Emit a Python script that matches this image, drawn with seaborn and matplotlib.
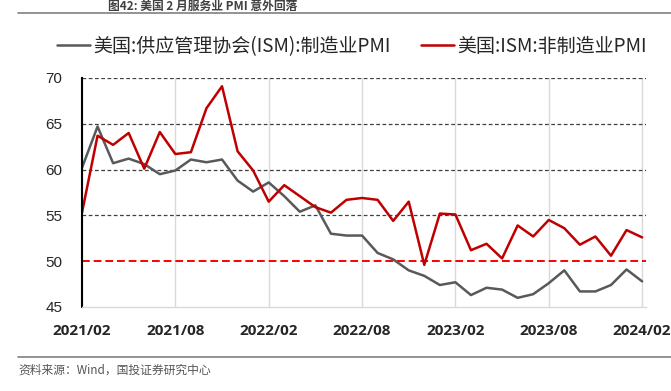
import numpy as np
import pandas as pd
import matplotlib
matplotlib.use('Agg')
import matplotlib.pyplot as plt
import seaborn as sns

# monthly data, 2021/02 - 2024/02
months = pd.period_range('2021-02', '2024-02', freq='M').strftime('%Y/%m').tolist()
ism_mfg = [60.2, 64.7, 60.7, 61.2, 60.6, 59.5, 59.9, 61.1, 60.8, 61.1, 58.8, 57.6,
           58.6, 57.1, 55.4, 56.1, 53.0, 52.8, 52.8, 50.9, 50.2, 49.0, 48.4, 47.4,
           47.7, 46.3, 47.1, 46.9, 46.0, 46.4, 47.6, 49.0, 46.7, 46.7, 47.4, 49.1,
           47.8]
ism_nonmfg = [55.3, 63.7, 62.7, 64.0, 60.1, 64.1, 61.7, 61.9, 66.7, 69.1, 62.0, 59.9,
              56.5, 58.3, 57.1, 55.9, 55.3, 56.7, 56.9, 56.7, 54.4, 56.5, 49.6, 55.2,
              55.1, 51.2, 51.9, 50.3, 53.9, 52.7, 54.5, 53.6, 51.8, 52.7, 50.6, 53.4,
              52.6]
tick_labels = ['2021/02', '2021/08', '2022/02', '2022/08', '2023/02', '2023/08', '2024/02']
yticks = [45, 50, 55, 60, 65, 70]

name_mfg = '美国:供应管理协会(ISM):制造业PMI'
name_non = '美国:ISM:非制造业PMI'

df = pd.DataFrame({'idx': np.arange(len(months)), 'month': months,
                   name_mfg: ism_mfg, name_non: ism_nonmfg})
long_df = df.melt(id_vars=['idx', 'month'], var_name='series', value_name='value')

sns.set_theme(style='white')
plt.rcParams['font.family'] = ['Noto Sans CJK SC', 'DejaVu Sans']
plt.rcParams['axes.unicode_minus'] = False

fig = plt.figure(figsize=(6.71, 3.91), dpi=100)
ax = fig.add_axes([82 / 671, 84 / 391, 564 / 671, 229 / 391])

sns.lineplot(data=long_df, x='idx', y='value', hue='series',
             palette={name_mfg: '#595959', name_non: '#C00000'},
             linewidth=1.8, errorbar=None, ax=ax)

ax.set_xlim(0, 36.25)
ax.set_ylim(45, 70)

# x ticks every 6 months
tick_pos = [months.index(t) for t in tick_labels]
ax.set_xticks(tick_pos)
ax.set_xticklabels(tick_labels, fontsize=11, fontweight='bold',
                   family=['Open Sans', 'DejaVu Sans'])
ax.set_yticks(yticks)
ax.set_yticklabels([str(v) for v in yticks], fontsize=11,
                   family=['Liberation Sans', 'DejaVu Sans'])
ax.tick_params(axis='x', length=5, color='#D9D9D9', pad=7)
ax.tick_params(axis='y', length=0, pad=14)
ax.set_xlabel('')
ax.set_ylabel('')

# grid
for t in tick_pos:
    ax.axvline(t, color='#D9D9D9', lw=1.0, zorder=0)
for v in [55, 60, 65, 70]:
    ax.axhline(v, color='#404040', lw=0.9, ls=(0, (3, 2)), zorder=1)
ax.axhline(50, color='#FF0000', lw=1.4, ls=(0, (4, 2)), zorder=1)

for s in ['top', 'right']:
    ax.spines[s].set_visible(False)
ax.spines['left'].set_color('black')
ax.spines['left'].set_linewidth(1.5)
ax.spines['bottom'].set_color('#D9D9D9')
ax.spines['bottom'].set_linewidth(1.0)

leg = ax.legend(loc='lower center', bbox_to_anchor=(0.479, 1.06), ncol=2,
                frameon=False, prop={'size': 13.7, 'weight': 'medium'},
                handlelength=1.7, handletextpad=0.2,
                columnspacing=1.6, borderaxespad=0)
for line in leg.get_lines():
    line.set_linewidth(1.8)

# header and footer
fig.text(203 / 671, 1.0 - 6 / 391, '图42: 美国 2 月服务业 PMI 意外回落', ha='center', va='center',
         fontsize=8.5, fontweight='bold', color='#404040')
fig.add_artist(plt.Line2D([18 / 671, 1.0], [1 - 13 / 391, 1 - 13 / 391],
                          color='#808080', lw=1.2))
fig.add_artist(plt.Line2D([18 / 671, 1.0], [1 - 357 / 391, 1 - 357 / 391],
                          color='#808080', lw=1.2))
fig.text(18 / 671, 1 - 370 / 391, '资料来源：Wind，国投证券研究中心', ha='left', va='center',
         fontsize=8.5, style='italic', color='#555555')

fig.savefig('out.png', dpi=100)
